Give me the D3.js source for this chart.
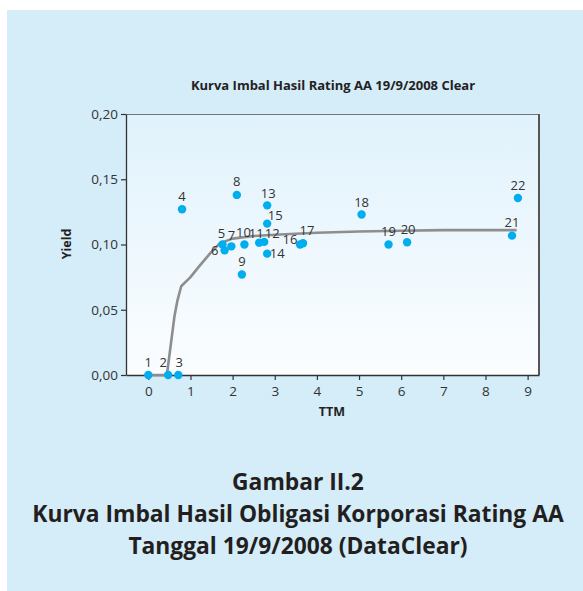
<!DOCTYPE html>
<html>
<head>
<meta charset="utf-8">
<script src="https://cdn.jsdelivr.net/npm/d3@7"></script>
<style>
  html, body { margin: 0; padding: 0; background: #fff; }
  svg { display: block; }
</style>
</head>
<body>
<svg id="chart"></svg>
<script>
// data
var pointIds = [1, 2, 3, 4, 5, 6, 7, 8, 9, 10, 11, 12, 13, 14, 15, 16, 17, 18, 19, 20, 21, 22];
var pointTTM = [0.0, 0.47, 0.71, 0.80, 1.76, 1.81, 1.97, 2.10, 2.22, 2.28, 2.63, 2.75, 2.82, 2.82, 2.82, 3.60, 3.67, 5.06, 5.70, 6.14, 8.63, 8.77];
var pointYield = [0.0, 0.0, 0.0, 0.127, 0.100, 0.0955, 0.0986, 0.138, 0.077, 0.100, 0.1014, 0.102, 0.130, 0.093, 0.116, 0.100, 0.101, 0.123, 0.100, 0.1017, 0.1068, 0.1356];
var curveTTM = [0, 0.44, 0.62, 0.69, 0.78, 1.0, 1.2, 1.46, 1.7, 2.0, 2.5, 3.0, 4.0, 5.0, 6.0, 7.0, 8.74];
var curveYield = [0, 0, 0.045, 0.057, 0.068, 0.075, 0.083, 0.093, 0.101, 0.1045, 0.1065, 0.1075, 0.109, 0.110, 0.1105, 0.111, 0.111];
var xTicks = [0, 1, 2, 3, 4, 5, 6, 7, 8, 9];
var yTicks = [0, 0.05, 0.10, 0.15, 0.20];

var chartTitle = "Kurva Imbal Hasil Rating AA 19/9/2008 Clear";
var captionLines = ["Gambar II.2", "Kurva Imbal Hasil Obligasi Korporasi Rating AA", "Tanggal 19/9/2008 (DataClear)"];

// label placement around each dot (dx, dy of the label centre)
var labelShift = {
	1: [0, -13], 2: [-5, -13], 3: [1, -13], 4: [0, -13], 5: [-1, -11], 6: [-10, 0],
	7: [0, -11], 8: [0, -13], 9: [0, -13], 10: [-1, -12], 11: [-3, -9], 12: [8, -8],
	13: [1, -12], 14: [10, 0], 15: [8, -8], 16: [-10, -5], 17: [4, -13], 18: [0, -12],
	19: [0, -13], 20: [1, -13], 21: [0, -13], 22: [0, -13]
};

(function(){
	var W = 583, H = 591;
	var pLeft = 126, pRight = 539, pTop = 114, pBottom = 375;
	var fontMain = "'Open Sans', 'Noto Sans', sans-serif";

	var svg = d3.select("#chart").attr("width", W).attr("height", H);

	var defs = svg.append("defs");
	var grad = defs.append("linearGradient")
		.attr("id", "plotGrad")
		.attr("x1", 0).attr("y1", 0).attr("x2", 0).attr("y2", 1);
	grad.append("stop").attr("offset", "0%").attr("stop-color", "#e0f2fc");
	grad.append("stop").attr("offset", "100%").attr("stop-color", "#fbfdff");

	// panel background
	svg.append("rect")
		.attr("x", 7).attr("y", 10)
		.attr("width", W - 7).attr("height", H - 10)
		.style("fill", "#d5ecf9");

	var x = d3.scaleLinear().domain([-0.53, 9.27]).range([pLeft, pRight]);
	var y = d3.scaleLinear().domain([0, 0.2]).range([pBottom, pTop]);

	// plot area
	svg.append("rect")
		.attr("x", pLeft).attr("y", pTop)
		.attr("width", pRight - pLeft).attr("height", pBottom - pTop)
		.style("fill", "url(#plotGrad)");

	// frame: top and right edges
	svg.append("line")
		.attr("x1", pLeft).attr("x2", pRight).attr("y1", pTop + 0.5).attr("y2", pTop + 0.5)
		.style("stroke", "#777").style("stroke-width", "1px");
	svg.append("line")
		.attr("x1", pRight).attr("x2", pRight).attr("y1", pTop).attr("y2", pBottom)
		.style("stroke", "#555").style("stroke-width", "2px");

	// axes
	var xAxis = d3.axisBottom(x)
		.tickValues(xTicks)
		.tickSize(5)
		.tickSizeOuter(0)
		.tickPadding(6)
		.tickFormat(d3.format("d"));
	var yAxis = d3.axisLeft(y)
		.tickValues(yTicks)
		.tickSize(5)
		.tickSizeOuter(0)
		.tickPadding(3)
		.tickFormat(function(d) { return d3.format(".2f")(d).replace(".", ","); });

	var gx = svg.append("g")
		.attr("transform", "translate(0," + pBottom + ")")
		.call(xAxis);
	var gy = svg.append("g")
		.attr("transform", "translate(" + pLeft + ",0)")
		.call(yAxis);

	[gx, gy].forEach(function(g){
		g.select(".domain").style("stroke", "#333").style("stroke-width", "1.3px");
		g.selectAll(".tick line").style("stroke", "#333").style("stroke-width", "1.2px");
		g.selectAll(".tick text")
			.style("font-family", fontMain)
			.style("font-size", "13.5px")
			.style("fill", "#333");
	});

	// fitted curve
	var line = d3.line()
		.x(function(d) { return x(d[0]); })
		.y(function(d) { return y(d[1]); });
	var curveData = curveTTM.map(function(t, i){ return [t, curveYield[i]]; });
	svg.append("path")
		.datum(curveData)
		.attr("d", line)
		.style("fill", "none")
		.style("stroke", "#8e8e8e")
		.style("stroke-width", "2.6px")
		.style("stroke-linejoin", "round");

	// points
	var pts = pointIds.map(function(id, i){
		return {id: id, ttm: pointTTM[i], yld: pointYield[i]};
	});
	svg.append("g").selectAll("circle")
		.data(pts)
		.enter().append("circle")
		.attr("cx", function(d) { return x(d.ttm); })
		.attr("cy", function(d) { return y(d.yld); })
		.attr("r", 4.2)
		.style("fill", "#00aeef");

	svg.append("g").selectAll("text")
		.data(pts)
		.enter().append("text")
		.attr("x", function(d) { return x(d.ttm) + labelShift[d.id][0]; })
		.attr("y", function(d) { return y(d.yld) + labelShift[d.id][1]; })
		.attr("dy", "0.35em")
		.attr("text-anchor", "middle")
		.style("font-family", fontMain)
		.style("font-size", "13px")
		.style("fill", "#333")
		.text(function(d) { return d.id; });

	// titles
	svg.append("text")
		.attr("x", 333).attr("y", 85.5)
		.attr("dy", "0.35em")
		.attr("text-anchor", "middle")
		.style("font-family", fontMain)
		.style("font-weight", "bold")
		.style("font-size", "13px")
		.style("fill", "#222")
		.text(chartTitle);

	svg.append("text")
		.attr("x", 332).attr("y", 412)
		.attr("dy", "0.35em")
		.attr("text-anchor", "middle")
		.style("font-family", fontMain)
		.style("font-weight", "bold")
		.style("font-size", "12.5px")
		.style("fill", "#222")
		.text("TTM");

	svg.append("text")
		.attr("transform", "translate(67,244) rotate(-90)")
		.attr("dy", "0.35em")
		.attr("text-anchor", "middle")
		.style("font-family", fontMain)
		.style("font-weight", "bold")
		.style("font-size", "12.5px")
		.style("fill", "#222")
		.text("Yield");

	// caption
	svg.append("g").selectAll("text")
		.data(captionLines)
		.enter().append("text")
		.attr("x", 298)
		.attr("y", function(d, i) { return 482 + i * 32; })
		.attr("dy", "0.35em")
		.attr("text-anchor", "middle")
		.style("font-family", fontMain)
		.style("font-weight", "bold")
		.style("font-size", "22.8px")
		.style("fill", "#231f20")
		.text(function(d) { return d; });
})();
</script>
</body>
</html>
